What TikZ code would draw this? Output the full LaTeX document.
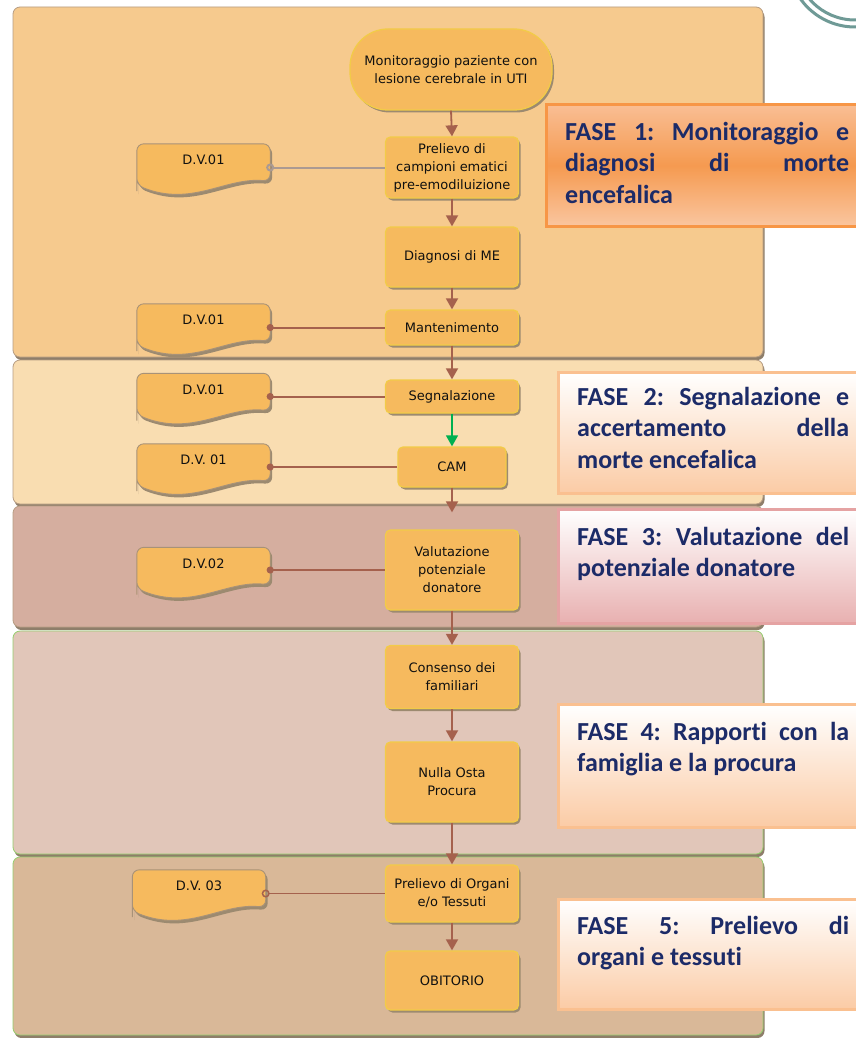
\documentclass[tikz,border=0pt]{standalone}
\usepackage{fontspec}
\setmainfont{Carlito}[Ligatures=NoCommon]
\newfontfamily\boxfont{DejaVu Sans}
\usetikzlibrary{arrows.meta,calc,shadows}
\frenchspacing

% palette
\definecolor{laneA}{HTML}{F6CA8E}
\definecolor{laneB}{HTML}{F9DDB1}
\definecolor{laneC}{HTML}{D5AE9F}
\definecolor{laneD}{HTML}{E1C6B9}
\definecolor{laneE}{HTML}{D9B898}
\definecolor{laneedge}{HTML}{B79D83}
\definecolor{laneshade}{HTML}{8E7E6A}
\definecolor{greenedge}{HTML}{96CE6E}
\definecolor{procfill}{HTML}{F6BA5E}
\definecolor{procedge}{HTML}{F2CB48}
\definecolor{procshade}{HTML}{9C8A70}
\definecolor{dvedge}{HTML}{A89278}
\definecolor{linkbrown}{HTML}{A5614D}
\definecolor{linkgrey}{HTML}{AB9A92}
\definecolor{flowgreen}{HTML}{00B050}
\definecolor{navy}{HTML}{1C2B68}
\definecolor{orangeedge}{HTML}{F79646}
\definecolor{orangetop}{HTML}{F9BE94}
\definecolor{orangemid}{HTML}{F59A50}
\definecolor{orangebot}{HTML}{FAC6A0}
\definecolor{peachedge}{HTML}{FAC090}
\definecolor{peachbot}{HTML}{FBCBA5}
\definecolor{pinkedge}{HTML}{E5A3A3}
\definecolor{pinkbot}{HTML}{E8B0B0}
\definecolor{ringteal}{HTML}{6F9A96}
\definecolor{inktext}{HTML}{101010}

\pgfdeclarelayer{back}
\pgfsetlayers{back,main}

% wavy document shape drawn behind a named node
\newcommand\dvshape[1]{%
  \begin{pgfonlayer}{back}
    \fill[procshade, transform canvas={shift={(2,3)}}]
      ($(#1.south west)+(0,-7)$) [rounded corners=7] |- (#1.north east)
      -- ($(#1.south east)+(0,-10)$)
      .. controls ($(#1.south east)+(-45,-14)$) and ($(#1.south west)+(55,16)$) .. ($(#1.south west)+(0,-6)$) -- cycle;
    \filldraw[fill=procfill, draw=dvedge, line width=0.9]
      ($(#1.south west)+(0,-7)$) [rounded corners=7] |- (#1.north east)
      -- ($(#1.south east)+(0,-10)$)
      .. controls ($(#1.south east)+(-45,-14)$) and ($(#1.south west)+(55,16)$) .. ($(#1.south west)+(0,-6)$) -- cycle;
  \end{pgfonlayer}}

\begin{document}
\begin{tikzpicture}[x=1pt,y=-1pt,
  lane/.style={draw=laneedge, line width=0.8, rounded corners=7,
    drop shadow={shadow xshift=1.5pt, shadow yshift=-3pt, fill=laneshade, opacity=1}},
  proc/.style={rectangle, rounded corners=5, fill=procfill, draw=procedge, line width=1.3,
    minimum width=133, align=center, inner sep=2pt, text=inktext,
    font=\boxfont\fontsize{13}{18}\selectfont,
    drop shadow={shadow xshift=2pt, shadow yshift=-2.5pt, fill=procshade, opacity=1}},
  dvnode/.style={rectangle, minimum width=133, minimum height=47, inner sep=0pt,
    text height=9pt, text depth=15pt, text=inktext,
    font=\boxfont\fontsize{13}{18}\selectfont},
  flow/.style={draw=linkbrown, line width=1.8, -{Triangle[length=11pt,width=12pt]}},
  dvlink/.style={draw=linkbrown, line width=2, -{Circle[length=7pt]}, shorten >=-3.5pt},
  dvopen/.style={draw=linkbrown, line width=1.5, -{Circle[open,length=8pt]}, shorten >=-4pt},
  phasebox/.style={rectangle, line width=3, anchor=north west, minimum width=320},
  phasetext/.style={anchor=base west, inner sep=0pt, text=navy,
    font=\bfseries\fontsize{26}{31.6}\selectfont},
]
\useasboundingbox (0,0) rectangle (855,1038);

% page and swim lanes, one per phase
\begin{pgfonlayer}{back}
  \fill[white] (0,0) rectangle (855,1038);
  \path[lane, fill=laneA] (13,7) rectangle (763,357);
  \path[lane, fill=laneB] (13,360) rectangle (763,504);
  \path[lane, fill=laneC] (13,506) rectangle (763,627);
  \path[lane, fill=laneD, draw=greenedge] (13,631) rectangle (763,854);
  \path[lane, fill=laneE, draw=greenedge] (13,857) rectangle (763,1035);
\end{pgfonlayer}

% corner ornament
\draw[ringteal, line width=3] (855,-40) circle[radius=67];
\draw[ringteal, line width=3] (855,-40) circle[radius=60];

% main flow
\node[proc, rounded corners=38, minimum width=202, minimum height=81] (t) at (451,69.5)
  {Monitoraggio paziente con\\lesione cerebrale in UTI};
\node[proc, minimum height=61] (p1) at (452,167.5) {Prelievo di\\campioni ematici\\pre-emodiluizione};
\node[proc, minimum height=60] (p2) at (452,257) {Diagnosi di ME};
\node[proc, minimum height=35] (p3) at (452,327.5) {Mantenimento};
\node[proc, minimum height=33] (p4) at (452,396.5) {Segnalazione};
\node[proc, minimum width=108, minimum height=40] (p5) at (452,467) {CAM};
\node[proc, minimum height=80] (p6) at (452,570) {Valutazione\\potenziale\\donatore};
\node[proc, minimum height=63] (p7) at (452,677) {Consenso dei\\familiari};
\node[proc, minimum height=80] (p8) at (452,782) {Nulla Osta\\Procura};
\node[proc, minimum height=57] (p9) at (452,893.5) {Prelievo di Organi\\e/o Tessuti};
\node[proc, minimum height=59] (p10) at (452,980.5) {OBITORIO};

% supporting documents
\node[dvnode] (d1) at (203.5,167.5) {D.V.01};
\node[dvnode] (d2) at (203.5,327.5) {D.V.01};
\node[dvnode] (d3) at (203.5,397) {D.V.01};
\node[dvnode] (d4) at (203.5,467.5) {D.V. 01};
\node[dvnode] (d5) at (203.5,571) {D.V.02};
\node[dvnode] (d6) at (199,893.5) {D.V. 03};
\dvshape{d1}\dvshape{d2}\dvshape{d3}\dvshape{d4}\dvshape{d5}\dvshape{d6}

% flow arrows
\draw[flow] (t.south) -- (p1.north);
\draw[flow] (p1.south) -- (p2.north);
\draw[flow] (p2.south) -- (p3.north);
\draw[flow] (p3.south) -- (p4.north);
\draw[flow, draw=flowgreen, line width=1.5] (p4.south) -- (p5.north);
\draw[flow, shorten >=17pt] (p5.south) -- (p6.north);
\draw[flow] (p6.south) -- (p7.north);
\draw[flow] (p7.south) -- (p8.north);
\draw[flow] (p8.south) -- (p9.north);
\draw[flow] (p9.south) -- (p10.north);

% document links
\draw[dvopen, draw=linkgrey, line width=2] (p1.west) -- (p1.west -| d1.east);
\draw[dvlink] (p3.west) -- (p3.west -| d2.east);
\draw[dvlink] (p4.west) -- (p4.west -| d3.east);
\draw[dvlink] (p5.west) -- (p5.west -| d4.east);
\draw[dvlink] (p6.west) -- (p6.west -| d5.east);
\draw[dvopen] (p9.west) -- (p9.west -| d6.east);

% phase captions
\node[phasebox, draw=orangeedge, top color=orangetop, bottom color=orangebot, middle color=orangemid,
  minimum height=122] (f1) at (545,103) {};
\node[phasetext] (f1t) at (565,140) {\parbox[t]{284pt}{%
  \makebox[284pt][s]{FASE 1: Monitoraggio e}\\
  \makebox[284pt][s]{diagnosi di morte}\\
  encefalica}};

\node[phasebox, draw=peachedge, top color=white, bottom color=peachbot,
  minimum height=121] (f2) at (557,371) {};
\node[phasetext] (f2t) at (577,405) {\parbox[t]{272pt}{%
  \makebox[272pt][s]{FASE 2: Segnalazione e}\\
  \makebox[272pt][s]{accertamento della}\\
  morte encefalica}};

\node[phasebox, draw=pinkedge, top color=white, bottom color=pinkbot,
  minimum height=114] (f3) at (557,508) {};
\node[phasetext] (f3t) at (577,545) {\parbox[t]{272pt}{%
  \makebox[272pt][s]{FASE 3: Valutazione del}\\
  potenziale donatore}};

\node[phasebox, draw=peachedge, top color=white, bottom color=peachbot,
  minimum height=123] (f4) at (557,703) {};
\node[phasetext] (f4t) at (577,740) {\parbox[t]{272pt}{%
  \makebox[272pt][s]{FASE 4: Rapporti con la}\\
  famiglia e la procura}};

\node[phasebox, draw=peachedge, top color=white, bottom color=peachbot,
  minimum height=110] (f5) at (557,898) {};
\node[phasetext] (f5t) at (577,934) {\parbox[t]{272pt}{%
  \makebox[272pt][s]{FASE 5: Prelievo di}\\
  organi e tessuti}};
\end{tikzpicture}
\end{document}
